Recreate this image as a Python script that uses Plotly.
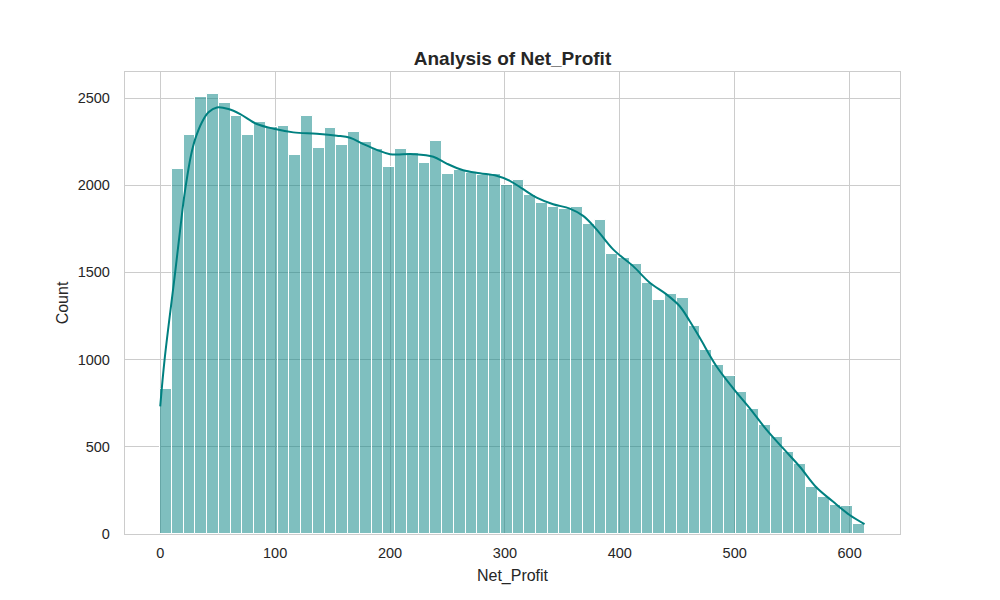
import plotly.graph_objects as go

# Histogram data
bin_start = 0.0
bin_width = 10.22
counts = [830, 2092, 2287, 2504, 2523, 2471, 2398, 2287, 2364, 2335,
          2339, 2172, 2397, 2213, 2328, 2230, 2305, 2249, 2207, 2105,
          2207, 2184, 2128, 2253, 2063, 2086, 2071, 2061, 2063, 2002,
          2029, 1943, 1898, 1876, 1864, 1874, 1776, 1799, 1603, 1580,
          1546, 1437, 1339, 1377, 1354, 1195, 1057, 971, 904, 816,
          716, 626, 559, 473, 402, 272, 215, 167, 161, 57]

# KDE curve points
kde_x = [0, 3.8, 13.0, 19.4, 22.3, 26.7, 30.4, 36.2, 42.0, 49.3, 59.4, 69.6,
         84.1, 100, 115.9, 136.3, 153.7, 165.2, 176.8, 188.4, 200, 220.3,
         237.7, 249.3, 263.7, 278.3, 292.8, 304.3, 315.9, 327.6, 342.0, 356.5,
         368.1, 379.7, 394.2, 411.6, 426.1, 440.6, 452.2, 460.9, 469.6, 484.1,
         498.5, 513.0, 527.6, 542.0, 556.5, 571.0, 585.5, 600, 613]
kde_y = [732, 1000, 1500, 1862, 2000, 2169, 2264, 2360, 2418, 2446, 2437, 2408,
         2351, 2322, 2303, 2295, 2284, 2272, 2236, 2203, 2178, 2178,
         2163, 2124, 2086, 2069, 2054, 2025, 1977, 1929, 1891, 1866,
         1824, 1747, 1632, 1536, 1441, 1374, 1306, 1220, 1125, 962,
         837, 722, 598, 492, 387, 268, 186, 109, 57]

x_ticks = [0, 100, 200, 300, 400, 500, 600]
y_ticks = [0, 500, 1000, 1500, 2000, 2500]

title_text = "Analysis of Net_Profit"
x_label = "Net_Profit"
y_label = "Count"

centers = [bin_start + bin_width * (i + 0.5) for i in range(len(counts))]
data_max = bin_start + bin_width * len(counts)
pad = 0.05 * (data_max - bin_start)

FONT = "Liberation Sans, Arial, Helvetica, sans-serif"
TEXT = "#262626"
GRID = "#cccccc"

fig = go.Figure()
fig.add_trace(go.Bar(
    x=centers, y=counts, width=bin_width,
    marker=dict(color="rgba(0,128,128,0.5)", line=dict(color="white", width=1)),
    showlegend=False, hoverinfo="x+y",
))
fig.add_trace(go.Scatter(
    x=kde_x, y=kde_y, mode="lines",
    line=dict(color="#008080", width=2, shape="spline", smoothing=1.0),
    showlegend=False,
))

fig.update_layout(
    width=1000, height=600,
    paper_bgcolor="white", plot_bgcolor="white",
    margin=dict(l=117, r=108, t=64, b=74),
    font=dict(family=FONT, color=TEXT, size=14.5),
    title=dict(text="<b>" + title_text + "</b>", x=0.5045, xanchor="center",
               y=1 - 50 / 600, yanchor="middle", yref="container",
               font=dict(family=FONT, size=19, color=TEXT)),
    bargap=0,
)
fig.update_xaxes(
    range=[bin_start - pad, data_max + pad],
    tickvals=x_ticks, ticktext=[str(v) for v in x_ticks],
    showgrid=True, gridcolor=GRID, gridwidth=1.2, zeroline=False,
    showline=True, mirror=True, linecolor=GRID, linewidth=1.3,
    ticks="outside", ticklen=5, tickcolor="rgba(0,0,0,0)",
    tickfont=dict(size=14.5, color=TEXT),
    title=dict(text=x_label, font=dict(size=16, color=TEXT), standoff=10),
)
fig.update_yaxes(
    range=[0, max(counts) * 1.05],
    tickvals=y_ticks, ticktext=[str(v) for v in y_ticks],
    showgrid=True, gridcolor=GRID, gridwidth=1.2, zeroline=False,
    showline=True, mirror=True, linecolor=GRID, linewidth=1.3,
    ticks="outside", ticklen=11, tickcolor="rgba(0,0,0,0)",
    tickfont=dict(size=14.5, color=TEXT),
    title=dict(text=y_label, font=dict(size=16, color=TEXT), standoff=5),
)

fig.write_html("out.html")
